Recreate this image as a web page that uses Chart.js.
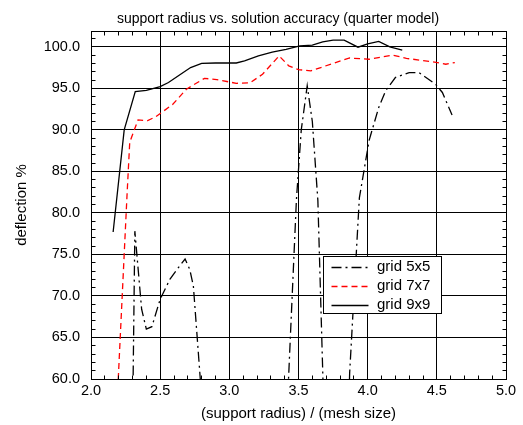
<!DOCTYPE html>
<html><head><meta charset="utf-8">
<script src="https://cdn.jsdelivr.net/npm/chart.js@4"></script>
<style>html,body{margin:0;padding:0;background:#fff}#wrap{width:523px;height:425px}</style>
</head><body><div id="wrap"><canvas id="c" width="523" height="425"></canvas></div>
<script>
const titleText = 'support radius vs. solution accuracy (quarter model)';
const xTitle = '(support radius) / (mesh size)';
const yTitle = 'deflection %';
const xTickValues = [2.0, 2.5, 3.0, 3.5, 4.0, 4.5, 5.0];
const yTickValues = [60, 65, 70, 75, 80, 85, 90, 95, 100];
const seriesNames = ['grid 5x5', 'grid 7x7', 'grid 9x9'];

// grid 5x5 (dips below the 60 % floor in places; those parts are clipped)
const grid5x5X = [2.303, 2.317, 2.366, 2.40, 2.44, 2.50, 2.57, 2.64, 2.68, 2.714, 2.74, 2.79, 2.80, 3.10, 3.42,
                  3.43, 3.485, 3.52, 3.563, 3.60, 3.64, 3.675, 3.68, 3.78, 3.865,
                  3.87, 3.94, 4.01, 4.08, 4.13, 4.20, 4.30, 4.37, 4.49, 4.54, 4.61];
const grid5x5Y = [58.0, 77.8, 68.4, 66.0, 66.3, 69.6, 72.0, 73.6, 74.45, 73.2, 71.2, 60.0, 57.0, 30.0, 57.0,
                  60.8, 81.6, 90.0, 95.3, 91.0, 81.5, 61.0, 58.0, 30.0, 58.0,
                  60.8, 81.8, 88.7, 92.7, 94.7, 96.3, 96.9, 96.9, 95.5, 94.5, 91.8];

// grid 7x7
const grid7x7X = [2.197, 2.26, 2.28, 2.34, 2.41, 2.47, 2.59, 2.69, 2.82, 2.91, 3.05, 3.15, 3.24, 3.36, 3.43,
                  3.50, 3.59, 3.75, 3.87, 4.01, 4.18, 4.28, 4.47, 4.565, 4.63];
const grid7x7Y = [60.0, 82.0, 88.5, 91.2, 91.1, 91.6, 93.05, 94.9, 96.2, 96.05, 95.6, 95.65, 96.7, 98.9, 97.7,
                  97.25, 97.1, 98.0, 98.65, 98.5, 99.0, 98.6, 98.2, 97.9, 98.1];

// grid 9x9
const grid9x9X = [2.16, 2.24, 2.32, 2.40, 2.50, 2.56, 2.64, 2.72, 2.80, 2.90, 3.05, 3.11, 3.21, 3.31, 3.41,
                  3.51, 3.60, 3.675, 3.75, 3.83, 3.93, 4.00, 4.08, 4.16, 4.25];
const grid9x9Y = [77.7, 90.0, 94.6, 94.75, 95.2, 95.7, 96.6, 97.5, 98.0, 98.05, 98.05, 98.3, 98.9, 99.35, 99.7,
                  100.1, 100.2, 100.6, 100.8, 100.8, 99.95, 100.35, 100.65, 100.0, 99.6];

const FONT = '"Liberation Sans", Arial, Helvetica, sans-serif';
const toPts = (xs, ys) => xs.map((x, i) => ({x: x, y: ys[i]}));

const framePlugin = {
  id: 'frameTicksLegend',
  afterLayout(chart) {
    // shift the title centre to match the reference
    chart.titleBlock.left = 33;
    chart.titleBlock.right = 523;
  },
  afterDraw(chart) {
    const {ctx, chartArea: a, scales: {x, y}} = chart;
    const L = Math.round(a.left - 0.5) + 0.5, R = Math.round(a.right - 0.5) + 0.5;
    const T = Math.round(a.top - 0.5) + 0.5, B = Math.round(a.bottom - 0.5) + 0.5;
    ctx.save();
    ctx.strokeStyle = '#000';
    ctx.lineWidth = 1;
    ctx.setLineDash([]);
    ctx.strokeRect(L, T, R - L, B - T);
    // minor ticks (inward)
    const tl = 4;
    ctx.beginPath();
    for (let i = 20; i <= 50; i++) {
      const px = Math.round(x.getPixelForValue(i / 10) - 0.5) + 0.5;
      ctx.moveTo(px, B); ctx.lineTo(px, B - tl);
      ctx.moveTo(px, T); ctx.lineTo(px, T + tl);
    }
    for (let i = 60; i <= 101; i++) {
      const py = Math.round(y.getPixelForValue(i) - 0.5) + 0.5;
      ctx.moveTo(L, py); ctx.lineTo(L + tl, py);
      ctx.moveTo(R, py); ctx.lineTo(R - tl, py);
    }
    ctx.stroke();
    // legend box
    const bx = 323.5, by = 256.5, bw = 118, bh = 57;
    ctx.fillStyle = '#fff';
    ctx.fillRect(bx, by, bw, bh);
    ctx.strokeRect(bx, by, bw, bh);
    const rows = [267.5, 286.5, 305.5];
    ctx.font = '15px ' + FONT;
    ctx.textBaseline = 'middle';
    ctx.textAlign = 'left';
    chart.data.datasets.forEach((ds, i) => {
      ctx.strokeStyle = ds.borderColor;
      ctx.lineWidth = ds.borderWidth;
      ctx.setLineDash(ds.borderDash || []);
      ctx.beginPath();
      ctx.moveTo(331.5, rows[i]);
      ctx.lineTo(368.5, rows[i]);
      ctx.stroke();
      ctx.setLineDash([]);
      ctx.fillStyle = '#000';
      ctx.fillText(ds.label, 377, rows[i] - 0.5);
    });
    ctx.restore();
  }
};

new Chart(document.getElementById('c'), {
  type: 'line',
  data: {
    datasets: [
      {label: seriesNames[0], data: toPts(grid5x5X, grid5x5Y), borderColor: '#000', borderWidth: 1.3,
       borderDash: [10, 4, 2, 4], pointRadius: 0, tension: 0, fill: false, clip: 0},
      {label: seriesNames[1], data: toPts(grid7x7X, grid7x7Y), borderColor: '#ff0000', borderWidth: 1.3,
       borderDash: [6, 4], pointRadius: 0, tension: 0, fill: false, clip: 0},
      {label: seriesNames[2], data: toPts(grid9x9X, grid9x9Y), borderColor: '#000', borderWidth: 1.3,
       borderDash: [], pointRadius: 0, tension: 0, fill: false, clip: 0}
    ]
  },
  options: {
    responsive: false,
    animation: false,
    devicePixelRatio: 1,
    layout: {padding: {left: 0, right: 17, top: 0, bottom: 0}},
    plugins: {
      legend: {display: false},
      tooltip: {enabled: false},
      title: {display: true, text: titleText, color: '#000',
              font: {family: FONT, size: 14, weight: 'normal'}, padding: {top: 10.8, bottom: 3.4}}
    },
    scales: {
      x: {
        type: 'linear', min: 2, max: 5,
        afterBuildTicks: s => { s.ticks = xTickValues.map(v => ({value: v})); },
        afterFit: s => { s.height = 46; },
        grid: {color: '#000', lineWidth: 1, drawTicks: false},
        border: {display: false},
        ticks: {color: '#000', padding: 3, maxRotation: 0, autoSkip: false,
                font: {family: FONT, size: 14.5}, callback: v => Number(v).toFixed(1)},
        title: {display: true, text: xTitle, color: '#000', font: {family: FONT, size: 15},
                padding: {top: 0, bottom: 2.5}}
      },
      y: {
        type: 'linear', min: 60, max: 101.9,
        afterBuildTicks: s => { s.ticks = yTickValues.map(v => ({value: v})); },
        afterFit: s => { s.width = 91; },
        grid: {color: '#000', lineWidth: 1, drawTicks: false},
        border: {display: false},
        ticks: {color: '#000', padding: 11, autoSkip: false,
                font: {family: FONT, size: 14.5}, callback: v => Number(v).toFixed(1)},
        title: {display: true, text: yTitle, color: '#000', font: {family: FONT, size: 15},
                padding: {top: 12.7, bottom: 0}}
      }
    }
  },
  plugins: [framePlugin]
});
</script>
</body></html>
